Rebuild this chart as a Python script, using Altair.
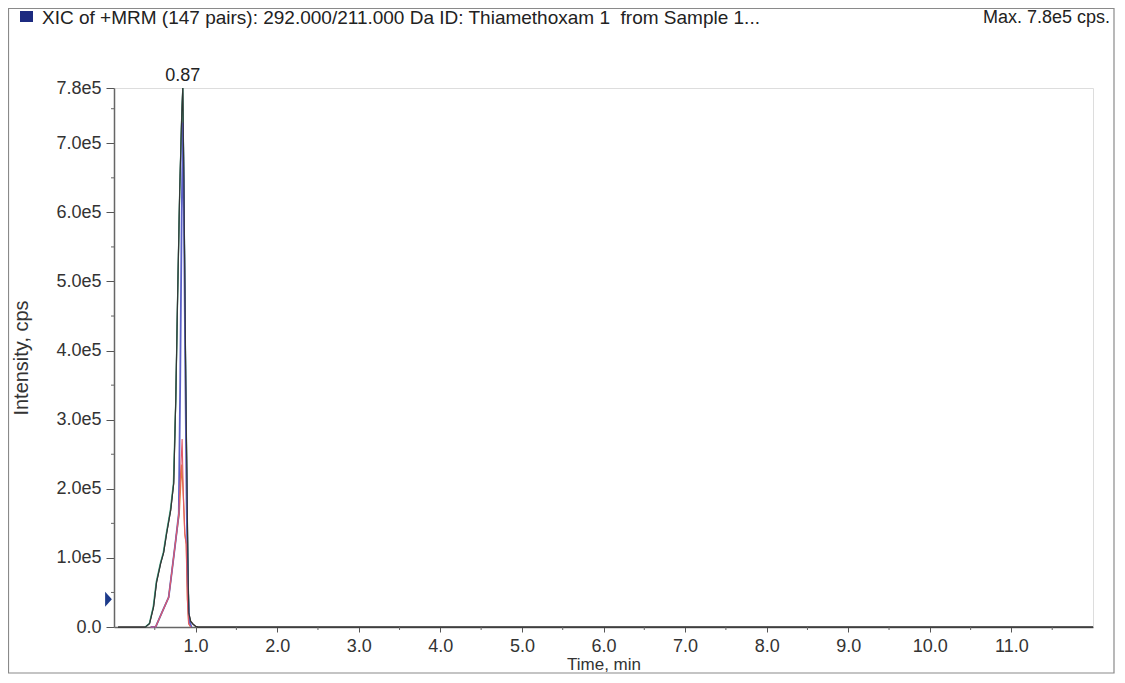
import altair as alt
import pandas as pd

# ---- data ----
black_t = [0.05, 0.30, 0.386, 0.436, 0.485, 0.522, 0.572, 0.609, 0.646, 0.695, 0.732, 0.757,
           0.78, 0.805, 0.83, 0.843, 0.856, 0.868, 0.880, 0.893, 0.905, 0.917, 0.94, 0.97, 1.00, 1.03, 12.0]
black_i = [0, 0, 0, 0.05e5, 0.29e5, 0.65e5, 0.92e5, 1.08e5, 1.36e5, 1.69e5, 2.08e5, 3.28e5,
           4.8e5, 6.3e5, 7.4e5, 7.8e5, 6.5e5, 5.0e5, 3.5e5, 2.2e5, 1.0e5, 0.2e5, 0.08e5, 0.04e5, 0.01e5, 0, 0]

blue_t = [0.45, 0.51, 0.584, 0.67, 0.707, 0.757, 0.794, 0.812, 0.83, 0.845, 0.86, 0.875, 0.89, 0.905, 0.92, 0.95]
blue_i = [0, 0, 0.2e5, 0.43e5, 0.78e5, 1.26e5, 1.64e5, 3.6e5, 6.0e5, 7.3e5, 5.6e5, 3.6e5, 1.8e5, 0.6e5, 0.1e5, 0]

red_t = [0.45, 0.51, 0.584, 0.67, 0.707, 0.757, 0.794, 0.819, 0.835, 0.85, 0.868, 0.885, 0.90, 0.915, 0.94]
red_i = [0, 0, 0.2e5, 0.43e5, 0.78e5, 1.26e5, 1.64e5, 2.3e5, 2.72e5, 1.9e5, 1.35e5, 1.2e5, 0.4e5, 0.05e5, 0]

orange_t = [0.45, 0.51, 0.584, 0.67, 0.707, 0.757, 0.80, 0.83, 0.85, 0.868, 0.885, 0.90, 0.915, 0.94]
orange_i = [0, 0, 0.2e5, 0.43e5, 0.78e5, 1.26e5, 1.64e5, 2.35e5, 1.9e5, 1.35e5, 1.2e5, 0.4e5, 0.05e5, 0]

green_t = [0.382, 0.432, 0.480, 0.517, 0.567, 0.604, 0.641, 0.690, 0.728, 0.757,
           0.78, 0.805, 0.83, 0.843, 0.856, 0.868, 0.880, 0.893, 0.905, 0.917, 0.94]
green_i = [0, 0.05e5, 0.29e5, 0.65e5, 0.92e5, 1.08e5, 1.36e5, 1.69e5, 2.08e5, 3.28e5,
           4.8e5, 6.3e5, 7.4e5, 7.8e5, 6.5e5, 5.0e5, 3.5e5, 2.2e5, 1.0e5, 0.2e5, 0]

x_major = [1, 2, 3, 4, 5, 6, 7, 8, 9, 10, 11]
x_minor = [0.5, 1.5, 2.5, 3.5, 4.5, 5.5, 6.5, 7.5, 8.5, 9.5, 10.5, 11.5]
y_major = [0, 1e5, 2e5, 3e5, 4e5, 5e5, 6e5, 7e5, 7.8e5]
y_minor = [0.5e5, 1.5e5, 2.5e5, 3.5e5, 4.5e5, 5.5e5, 6.5e5, 7.5e5]

peak_time = [0.843]
peak_value = [7.8e5]
peak_label = ["0.87"]
threshold = [0.4e5]

title_text = "XIC of +MRM (147 pairs): 292.000/211.000 Da ID: Thiamethoxam 1 \u00a0from Sample 1..."
max_text = "Max. 7.8e5 cps."

FONT = "Liberation Sans"
W, H = 979, 539

xs = alt.Scale(domain=[0, 12], nice=False)
ys = alt.Scale(domain=[0, 7.8e5], nice=False)

def trace(t, v, color, width=1.1, axes=False, opacity=1.0):
    df = pd.DataFrame({"t": t, "i": v})
    if axes:
        x = alt.X("t:Q", scale=xs, axis=alt.Axis(
            values=x_major, format=".1f", title="Time, min", grid=False,
            tickSize=5, tickColor="#555", domainColor="#666", domainWidth=1.5,
            labelFont=FONT, labelFontSize=18, labelColor="#333", labelPadding=5,
            titleFont=FONT, titleFontSize=17, titleFontWeight="normal", titleColor="#333",
            titlePadding=1))
        y = alt.Y("i:Q", scale=ys, axis=alt.Axis(
            values=y_major, grid=False,
            labelExpr="datum.value == 0 ? '0.0' : format(datum.value / 1e5, '.1f') + 'e5'",
            tickSize=8, tickColor="#555", domainColor="#666", domainWidth=1.5,
            labelFont=FONT, labelFontSize=18, labelColor="#333", labelPadding=5,
            title="Intensity, cps", titleFont=FONT, titleFontSize=20,
            titleFontWeight="normal", titleColor="#333", titlePadding=24))
    else:
        x = alt.X("t:Q", scale=xs)
        y = alt.Y("i:Q", scale=ys)
    return alt.Chart(df).mark_line(color=color, strokeWidth=width, opacity=opacity,
                                   interpolate="linear").encode(x=x, y=y)

one = pd.DataFrame({"a": [0]})

frame = alt.Chart(one).mark_rect(fill="transparent", stroke="#8a8a8a", strokeWidth=1.2).encode(
    x=alt.value(-105.5), x2=alt.value(W + 21), y=alt.value(-79.5), y2=alt.value(H + 46))

square = alt.Chart(one).mark_rect(color="#1c2a80").encode(
    x=alt.value(-94), x2=alt.value(-81), y=alt.value(-77), y2=alt.value(-66))

title = alt.Chart(one).mark_text(align="left", baseline="middle", font=FONT, fontSize=19,
                                 color="#222").encode(
    x=alt.value(-72), y=alt.value(-70), text=alt.value(title_text))

maxlab = alt.Chart(one).mark_text(align="right", baseline="middle", font=FONT, fontSize=18,
                                  color="#222").encode(
    x=alt.value(996), y=alt.value(-70), text=alt.value(max_text))

xminor = alt.Chart(pd.DataFrame({"t": x_minor})).mark_rule(color="#666", strokeWidth=1).encode(
    x=alt.X("t:Q", scale=xs), y=alt.value(H), y2=alt.value(H + 3))

yminor = alt.Chart(pd.DataFrame({"i": y_minor})).mark_rule(color="#666", strokeWidth=1).encode(
    y=alt.Y("i:Q", scale=ys), x=alt.value(-3), x2=alt.value(0))

peak = alt.Chart(pd.DataFrame({"t": peak_time, "i": peak_value, "lab": peak_label})).mark_text(
    font=FONT, fontSize=18, color="#222", baseline="bottom", dy=-3).encode(
    x=alt.X("t:Q", scale=xs), y=alt.Y("i:Q", scale=ys), text="lab:N")

marker = alt.Chart(pd.DataFrame({"i": threshold})).mark_point(
    shape="M-0.45,-1L0.45,0L-0.45,1Z", filled=True, size=225, color="#1c3a8a", opacity=1).encode(
    x=alt.value(-5.5), y=alt.Y("i:Q", scale=ys))

chart = alt.layer(
    frame, square, title, maxlab,
    trace(black_t, black_i, "#333333", 1.2, axes=True),
    trace(green_t, green_i, "#3fa886", 1.3),
    trace(orange_t, orange_i, "#e0843c", 1.3),
    trace(blue_t, blue_i, "#5a5fc8", 1.8),
    trace(red_t, red_i, "#e25a6a", 1.1),
    trace(black_t, black_i, "#333333", 1.1),
    xminor, yminor, peak, marker,
).properties(
    width=W, height=H,
    padding={"left": 106, "top": 80, "right": 24, "bottom": 48},
    autosize=alt.AutoSizeParams(type="none"),
).configure_view(strokeWidth=0).configure(background="white")

chart.save("out.html", embed_options={"renderer": "svg", "actions": False})
